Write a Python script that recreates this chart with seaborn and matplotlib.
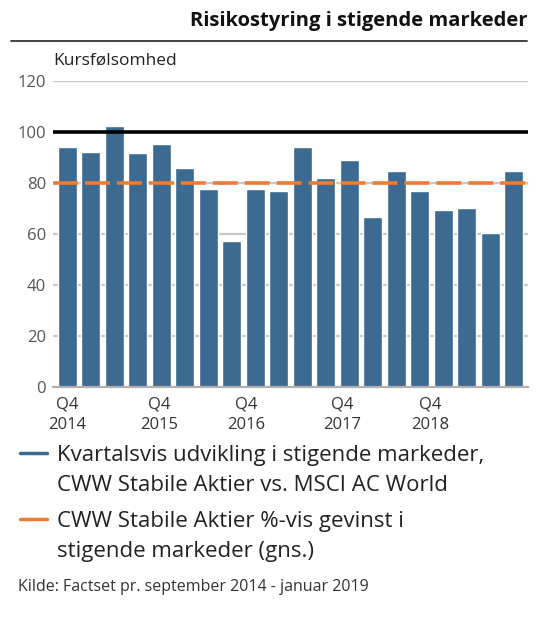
import matplotlib
matplotlib.use("Agg")
import matplotlib.pyplot as plt
from matplotlib.lines import Line2D
import seaborn as sns
import pandas as pd

# --- data ---
periods = [f"P{i+1}" for i in range(20)]
values = [94.0, 92.0, 102.2, 91.6, 95.1, 85.7, 77.5, 57.1, 77.5, 76.7,
          94.0, 81.8, 89.2, 66.5, 84.5, 77.0, 69.2, 70.0, 60.2, 84.5]
tick_pos = [0, 3.9, 7.6, 11.7, 15.45]
tick_labels = ["Q4\n2014", "Q4\n2015", "Q4\n2016", "Q4\n2017", "Q4\n2018"]
benchmark = 100
avg_gain = 80
yticks = [0, 20, 40, 60, 80, 100, 120]

title = "Risikostyring i stigende markeder"
ylabel = "Kursfølsomhed"
legend_labels = [["Kvartalsvis udvikling i stigende markeder,", "CWW Stabile Aktier vs. MSCI AC World"],
                 ["CWW Stabile Aktier %-vis gevinst i", "stigende markeder (gns.)"]]
source = "Kilde: Factset pr. september 2014 - januar 2019"

bar_color = "#3c6a91"
orange = "#ee7d32"
grey_text = "#555555"

sns.set_theme(style="white")
plt.rcParams["font.family"] = ["Open Sans", "DejaVu Sans"]
plt.rcParams["lines.scale_dashes"] = False

df = pd.DataFrame({"period": periods, "value": values})

W, H = 539, 623
fig = plt.figure(figsize=(W / 100, H / 100), dpi=100)
ax = fig.add_axes([0.098, 0.379, 0.882, 0.491])

for y in yticks[1:]:
    ax.axhline(y, color="#c8c8c8", lw=1.6, zorder=0)

sns.barplot(data=df, x="period", y="value", color=bar_color, width=0.8,
            saturation=1, ax=ax, zorder=2)

ax.axhline(benchmark, color="black", lw=2.6, zorder=3)
ax.axhline(avg_gain, color=orange, lw=2.6, ls=(0, (18, 5)), zorder=4)

ax.set_ylim(0, 120)
ax.set_xlim(-0.62, 19.62)
ax.set_yticks(yticks)
ax.set_yticklabels([str(v) for v in yticks], fontsize=12, color=grey_text)
ax.set_xticks(tick_pos)
ax.set_xticklabels(tick_labels, fontsize=12, color="#333333", linespacing=1.35)
ax.tick_params(axis="x", length=0, pad=7)
ax.tick_params(axis="y", length=0, pad=5)
ax.set_xlabel("")
ax.set_ylabel("")
for s in ["top", "right", "left"]:
    ax.spines[s].set_visible(False)
ax.spines["bottom"].set_color("#b0b0b0")
ax.spines["bottom"].set_linewidth(1.6)

fig.text(0.978, 0.966, title, ha="right", va="center", fontsize=14.5,
         fontweight="bold", color="#111111")
fig.add_artist(Line2D([0.02, 0.978], [0.934, 0.934], color="#333333", lw=1.3))
fig.text(0.098, 0.903, ylabel, ha="left", va="center", fontsize=12.5, color="#222222")

# legend (manual, handle aligned with first text line)
legend_colors = [bar_color, orange]
entry_tops = [453, 519]   # pixel rows of each entry's first line centre
line_step = 30
for lines, col, ytop in zip(legend_labels, legend_colors, entry_tops):
    yf = 1 - ytop / H
    fig.add_artist(Line2D([20 / W, 47 / W], [yf, yf], color=col, lw=2.5))
    for k, txt in enumerate(lines):
        yb = 1 - (ytop + 8 + k * line_step) / H
        fig.text(57 / W, yb, txt, ha="left", va="baseline", fontsize=16, color="#222222")

fig.text(0.033, 0.058, source, ha="left", va="center", fontsize=11.5, color="#333333")

fig.savefig("out.png", dpi=100)
